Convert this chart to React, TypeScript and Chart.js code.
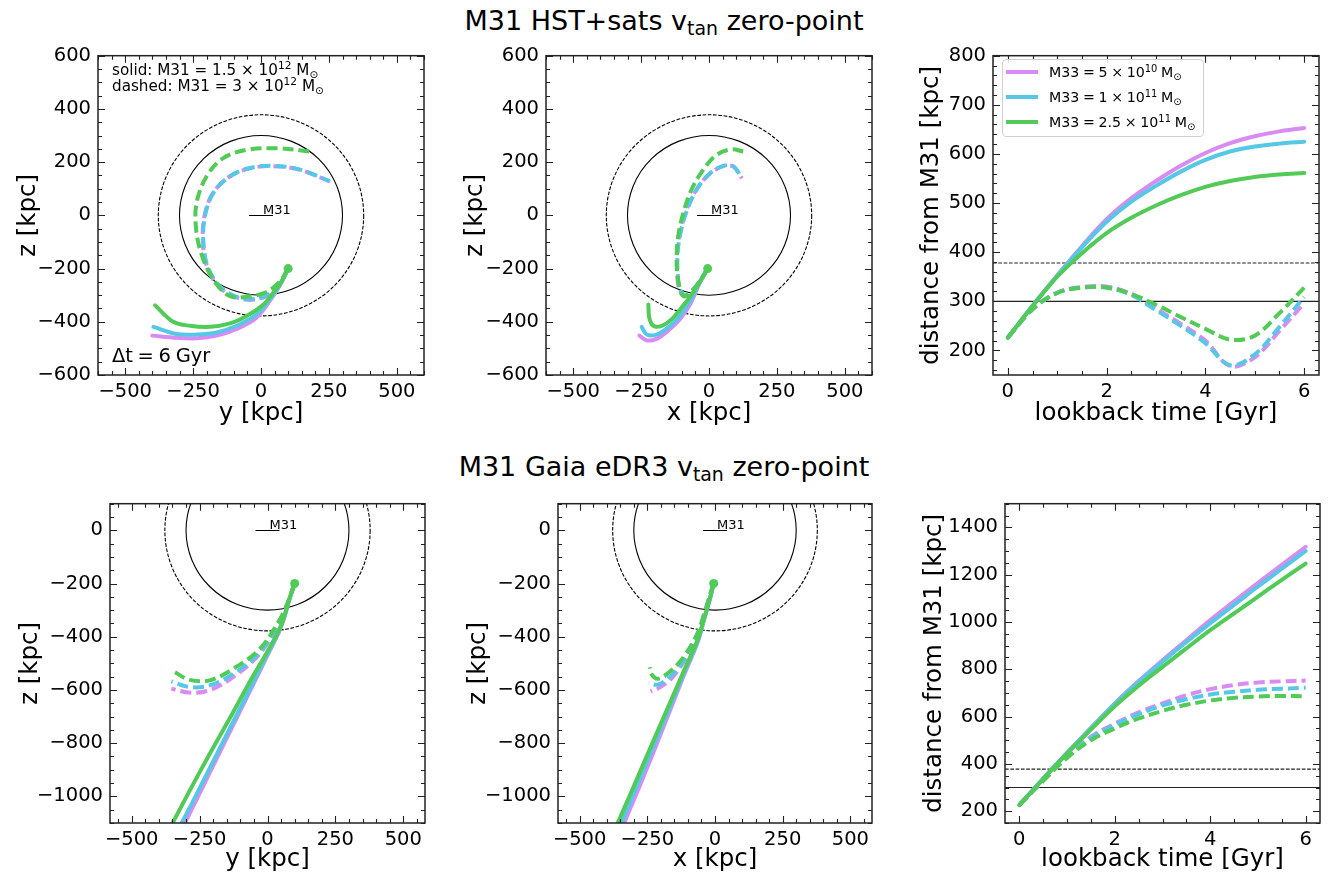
import React, { useEffect, useRef } from "react";
import { Chart, registerables } from "chart.js";
Chart.register(...registerables);

const FONT = "'DejaVu Sans', 'Noto Sans', sans-serif";
const C_VIOLET = "#d98bf4";
const C_CYAN = "#56c8e6";
const C_GREEN = "#52ca58";

// Reference radii (kpc) of M31 halo circles / horizontal lines
const HALO_R = 300;
const HALO_R_HEAVY = 378;

// Present-day M33 position
const M33_NOW_YZ: [number, number] = [100, -200];
const M33_NOW_XZ: [number, number] = [-5, -200];

// Tick labels
const SPATIAL_H_TICKS = [-500, -250, 0, 250, 500];
const TOP_Z_TICKS = [-600, -400, -200, 0, 200, 400, 600];
const BOTTOM_Z_TICKS = [-1000, -800, -600, -400, -200, 0];
const TIME_TICKS = [0, 2, 4, 6];
const HST_DIST_TICKS = [200, 300, 400, 500, 600, 700, 800];
const GAIA_DIST_TICKS = [200, 400, 600, 800, 1000, 1200, 1400];

// ---------- Top row: M31 HST+sats v_tan zero-point ----------
// y-z plane
const HST_YZ_GREEN_SOLID = [[100, -200], [76, -248], [58, -273], [9, -335], [-53, -378], [-114, -406], [-188, -419], [-261, -415], [-323, -400], [-390, -338]];
const HST_YZ_CYAN_SOLID = [[100, -200], [76, -250], [50, -292], [-16, -372], [-90, -415], [-163, -440], [-237, -448], [-310, -446], [-396, -419]];
const HST_YZ_VIOLET_SOLID = [[100, -200], [76, -251], [50, -295], [-16, -384], [-90, -427], [-163, -452], [-237, -462], [-310, -460], [-400, -452]];
const HST_YZ_GREEN_DASHED = [[100, -200], [70, -248], [21, -288], [-40, -304], [-114, -304], [-175, -242], [-218, -149], [-239, -51], [-237, 48], [-200, 147], [-139, 215], [-53, 246], [58, 252], [186, 240]];
const HST_YZ_CYAN_DASHED = [[100, -200], [58, -273], [-4, -310], [-77, -310], [-145, -273], [-194, -199], [-212, -100], [-206, -1], [-175, 85], [-114, 147], [-40, 178], [45, 186], [144, 172], [254, 128]];
const HST_YZ_VIOLET_DASHED = [[100, -200], [58, -276], [-4, -313], [-77, -313], [-147, -276], [-196, -201], [-214, -101], [-208, -2], [-177, 84], [-115, 146], [-40, 177], [45, 185], [144, 171], [254, 127]];
// x-z plane
const HST_XZ_GREEN_SOLID = [[-5, -200], [-33, -248], [-64, -298], [-101, -347], [-137, -390], [-174, -415], [-205, -415], [-220, -384], [-223, -335]];
const HST_XZ_CYAN_SOLID = [[-5, -200], [-33, -250], [-70, -322], [-107, -378], [-150, -421], [-193, -448], [-229, -448], [-248, -419]];
const HST_XZ_VIOLET_SOLID = [[-5, -200], [-33, -252], [-70, -335], [-107, -390], [-150, -433], [-193, -464], [-229, -470], [-256, -452]];
const HST_XZ_GREEN_DASHED = [[-5, -200], [-33, -248], [-64, -285], [-94, -304], [-113, -248], [-119, -162], [-113, -75], [-94, 11], [-64, 98], [-21, 172], [28, 227], [83, 248], [126, 240]];
const HST_XZ_CYAN_DASHED = [[-5, -200], [-45, -262], [-85, -300], [-106, -280], [-115, -220], [-116, -150], [-109, -88], [-88, -1], [-52, 85], [-2, 153], [53, 186], [90, 184], [120, 141]];
const HST_XZ_VIOLET_DASHED = [[-5, -200], [-45, -264], [-86, -303], [-108, -283], [-117, -222], [-118, -151], [-111, -89], [-90, -2], [-54, 84], [-3, 151], [52, 185], [90, 183], [121, 139]];
// distance from M31 vs lookback time
const LOOKBACK_GYR = [0, 0.5, 1, 1.5, 2, 2.5, 3, 3.5, 4, 4.5, 5, 5.5, 6];
const HST_DIST_VIOLET_SOLID = [226, 291, 353, 412, 467, 510, 545, 576, 602, 622, 636, 646, 653];
const HST_DIST_CYAN_SOLID = [226, 291, 352, 410, 462, 503, 535, 564, 588, 605, 615, 621, 625];
const HST_DIST_GREEN_SOLID = [226, 290, 350, 398, 439, 470, 495, 516, 533, 545, 553, 558, 561];
const HST_DIST_VIOLET_DASHED = [226, 284, 318, 329, 330, 315, 285, 254, 220, 168, 186, 240, 296];
const HST_DIST_CYAN_DASHED = [226, 284, 317, 328, 328, 313, 282, 250, 215, 170, 192, 248, 309];
const HST_DIST_GREEN_DASHED = [226, 284, 317, 328, 328, 315, 293, 268, 244, 222, 230, 276, 328];

// ---------- Bottom row: M31 Gaia eDR3 v_tan zero-point ----------
const GAIA_YZ_GREEN_SOLID = [[100, -200], [80, -260], [60, -330], [40, -380], [0, -455], [-60, -560], [-130, -690], [-210, -835], [-290, -985], [-350, -1101], [-366, -1130]];
const GAIA_YZ_CYAN_SOLID = [[100, -200], [80, -262], [60, -332], [40, -385], [0, -465], [-60, -586], [-130, -727], [-210, -888], [-280, -1030], [-317, -1101], [-331, -1130]];
const GAIA_YZ_VIOLET_SOLID = [[100, -200], [80, -262], [60, -333], [40, -387], [0, -470], [-60, -595], [-130, -740], [-210, -905], [-270, -1030], [-305, -1101], [-319, -1130]];
const GAIA_YZ_GREEN_DASHED = [[100, -200], [69, -286], [38, -348], [-29, -447], [-127, -521], [-213, -564], [-287, -562], [-342, -533]];
const GAIA_YZ_CYAN_DASHED = [[100, -200], [69, -288], [38, -354], [-29, -459], [-127, -540], [-213, -583], [-287, -589], [-354, -568]];
const GAIA_YZ_VIOLET_DASHED = [[100, -200], [69, -289], [38, -356], [-29, -465], [-127, -552], [-213, -601], [-287, -610], [-354, -595]];
const GAIA_XZ_GREEN_SOLID = [[-5, -200], [-20, -260], [-40, -330], [-64, -410], [-120, -540], [-180, -680], [-240, -820], [-300, -962], [-360, -1101], [-372, -1130]];
const GAIA_XZ_CYAN_SOLID = [[-5, -200], [-20, -262], [-40, -333], [-63, -413], [-118, -545], [-176, -687], [-235, -830], [-290, -965], [-346, -1101], [-358, -1130]];
const GAIA_XZ_VIOLET_SOLID = [[-5, -200], [-20, -263], [-40, -334], [-62, -415], [-116, -548], [-172, -692], [-228, -836], [-282, -970], [-336, -1101], [-348, -1130]];
const GAIA_XZ_GREEN_DASHED = [[-5, -200], [-39, -311], [-64, -385], [-113, -472], [-162, -527], [-211, -558], [-235, -540], [-241, -515]];
const GAIA_XZ_CYAN_DASHED = [[-5, -200], [-39, -313], [-64, -391], [-113, -484], [-162, -546], [-211, -580], [-245, -573]];
const GAIA_XZ_VIOLET_DASHED = [[-5, -200], [-39, -314], [-64, -394], [-113, -490], [-162, -558], [-211, -595], [-238, -605]];
const GAIA_DIST_VIOLET_SOLID = [226, 338, 447, 552, 656, 750, 838, 923, 1008, 1087, 1165, 1242, 1318];
const GAIA_DIST_CYAN_SOLID = [226, 338, 446, 551, 653, 746, 832, 915, 995, 1072, 1150, 1225, 1300];
const GAIA_DIST_GREEN_SOLID = [226, 336, 443, 545, 643, 730, 810, 888, 965, 1036, 1107, 1178, 1247];
const GAIA_DIST_VIOLET_DASHED = [226, 330, 432, 515, 570, 618, 656, 690, 716, 733, 744, 749, 752];
const GAIA_DIST_CYAN_DASHED = [226, 330, 430, 510, 565, 610, 647, 673, 693, 705, 713, 718, 722];
const GAIA_DIST_GREEN_DASHED = [226, 328, 425, 500, 550, 592, 624, 650, 668, 679, 685, 687, 686];

// Legend
const LEGEND_COLORS = [C_VIOLET, C_CYAN, C_GREEN];
const LEGEND_COEFS = ["5", "1", "2.5"];
const LEGEND_EXPS = ["10", "11", "11"];

// ---------- layout constants ----------
const YW = 92;
const XH = 62;
const PT = 14;
const PR = 10;
const TICK_FS = 19.5;
const AXIS_FS = 24.5;

const lineDs = (pts: number[][], color: string, dashed: boolean) => ({
  data: pts.map(([a, b]) => ({ x: a, y: b })),
  borderColor: color,
  backgroundColor: color,
  borderWidth: 4,
  borderDash: dashed ? [11, 5] : [],
  borderCapStyle: dashed ? "butt" : "round",
  borderJoinStyle: "round",
  pointRadius: 0,
  pointHoverRadius: 0,
  showLine: true,
  tension: 0.35,
  fill: false,
  clip: 0,
});

const distDs = (vals: number[], color: string, dashed: boolean) =>
  lineDs(LOOKBACK_GYR.map((t, i) => [t, vals[i]]), color, dashed);

const dotDs = (p: [number, number]) => ({
  data: [{ x: p[0], y: p[1] }],
  pointRadius: 4.5,
  pointHoverRadius: 4.5,
  pointBackgroundColor: C_GREEN,
  pointBorderWidth: 0,
  showLine: false,
  clip: 0,
});

const fmt = (v: number) => String(Math.round(v * 1000) / 1000).replace("-", "\u2212");

function makeDecor(d: any) {
  return {
    id: "decor",
    beforeDatasetsDraw(chart: any) {
      const { ctx, chartArea: a } = chart;
      const xs = chart.scales.x;
      const ys = chart.scales.y;
      ctx.save();
      ctx.beginPath();
      ctx.rect(a.left, a.top, a.right - a.left, a.bottom - a.top);
      ctx.clip();
      for (const c of d.circles || []) {
        const cx = xs.getPixelForValue(0);
        const cy = ys.getPixelForValue(0);
        const rx = Math.abs(xs.getPixelForValue(c.r) - cx);
        const ry = Math.abs(ys.getPixelForValue(c.r) - cy);
        ctx.strokeStyle = "#000";
        ctx.lineWidth = 1.1;
        ctx.setLineDash(c.dash);
        ctx.beginPath();
        ctx.ellipse(cx, cy, rx, ry, 0, 0, Math.PI * 2);
        ctx.stroke();
      }
      for (const h of d.hlines || []) {
        const py = ys.getPixelForValue(h.v);
        ctx.strokeStyle = "#222";
        ctx.lineWidth = 1.2;
        ctx.setLineDash(h.dash);
        ctx.beginPath();
        ctx.moveTo(a.left, py);
        ctx.lineTo(a.right, py);
        ctx.stroke();
      }
      if (d.m31) {
        const cx = xs.getPixelForValue(0);
        const cy = Math.round(ys.getPixelForValue(0)) + 0.5;
        ctx.setLineDash([]);
        ctx.strokeStyle = "#000";
        ctx.lineWidth = 1;
        ctx.beginPath();
        ctx.moveTo(cx - 12, cy);
        ctx.lineTo(cx + 12, cy);
        ctx.stroke();
        ctx.fillStyle = "#000";
        ctx.font = `13px ${FONT}`;
        ctx.textAlign = "left";
        ctx.textBaseline = "alphabetic";
        ctx.fillText("M31", cx + 2, cy - 1.5);
      }
      ctx.restore();
    },
    afterDraw(chart: any) {
      const { ctx, chartArea: a } = chart;
      const xs = chart.scales.x;
      const ys = chart.scales.y;
      ctx.save();
      ctx.setLineDash([]);
      ctx.strokeStyle = "#222";
      const marks = (scale: any, minor: number) => {
        const major = scale.ticks.map((t: any) => t.value);
        const mn: number[] = [];
        for (let k = Math.ceil(scale.min / minor - 1e-9); k * minor <= scale.max + 1e-9; k++) {
          const v = k * minor;
          if (!major.some((m: number) => Math.abs(m - v) < 1e-6)) mn.push(v);
        }
        return { major, mn };
      };
      const xm = marks(xs, d.xMinor);
      const ym = marks(ys, d.yMinor);
      ctx.lineWidth = 1.1;
      const vtick = (v: number, len: number) => {
        const px = Math.round(xs.getPixelForValue(v)) + 0.5;
        ctx.beginPath();
        ctx.moveTo(px, a.bottom);
        ctx.lineTo(px, a.bottom - len);
        ctx.moveTo(px, a.top);
        ctx.lineTo(px, a.top + len);
        ctx.stroke();
      };
      const htick = (v: number, len: number) => {
        const py = Math.round(ys.getPixelForValue(v)) + 0.5;
        ctx.beginPath();
        ctx.moveTo(a.left, py);
        ctx.lineTo(a.left + len, py);
        ctx.moveTo(a.right, py);
        ctx.lineTo(a.right - len, py);
        ctx.stroke();
      };
      xm.major.forEach((v: number) => vtick(v, 7));
      xm.mn.forEach((v: number) => vtick(v, 4));
      ym.major.forEach((v: number) => htick(v, 7));
      ym.mn.forEach((v: number) => htick(v, 4));
      ctx.lineWidth = 1.5;
      ctx.strokeStyle = "#222";
      ctx.strokeRect(a.left, a.top, a.right - a.left, a.bottom - a.top);
      ctx.restore();
    },
  };
}

type PanelProps = {
  area: [number, number, number, number];
  xr: [number, number, number];
  yr: [number, number, number];
  xTicks: number[];
  yTicks: number[];
  xTitle: string;
  yTitle: string;
  yTitleX: number;
  xTitleY: number;
  datasets: any[];
  decor: any;
};

function Panel(p: PanelProps) {
  const ref = useRef<HTMLCanvasElement>(null);
  const [x0, y0, x1, y1] = p.area;
  const L = x0 - YW;
  const T = y0 - PT;
  const W = x1 - L + PR;
  const H = y1 + XH - T;
  useEffect(() => {
    const lh = AXIS_FS * 1.2;
    const tickFont = { family: FONT, size: TICK_FS };
    const titleFont = { family: FONT, size: AXIS_FS };
    const chart = new Chart(ref.current as HTMLCanvasElement, {
      type: "scatter",
      data: { datasets: p.datasets },
      options: {
        animation: false,
        responsive: false,
        events: [],
        layout: { padding: { top: PT, right: PR, left: 0, bottom: 0 } },
        plugins: { legend: { display: false }, tooltip: { enabled: false } },
        scales: {
          x: {
            type: "linear",
            position: "bottom",
            min: p.xr[0],
            max: p.xr[1],
            grid: { display: false, drawTicks: false },
            border: { display: false },
            afterBuildTicks: (s: any) => {
              s.ticks = p.xTicks.map((v) => ({ value: v }));
            },
            ticks: {
              autoSkip: false,
              maxRotation: 0,
              padding: 5,
              color: "#000",
              font: tickFont,
              callback: (v: any) => fmt(Number(v)),
            },
            title: {
              display: true,
              text: p.xTitle,
              color: "#000",
              font: titleFont,
              padding: { top: 0, bottom: y1 + XH - lh / 2 - p.xTitleY },
            },
            afterFit: (s: any) => {
              s.height = XH;
            },
          },
          y: {
            type: "linear",
            position: "left",
            min: p.yr[0],
            max: p.yr[1],
            grid: { display: false, drawTicks: false },
            border: { display: false },
            afterBuildTicks: (s: any) => {
              s.ticks = p.yTicks.map((v) => ({ value: v }));
            },
            ticks: {
              autoSkip: false,
              padding: 7,
              color: "#000",
              font: tickFont,
              callback: (v: any) => fmt(Number(v)),
            },
            title: {
              display: true,
              text: p.yTitle,
              color: "#000",
              font: titleFont,
              padding: { top: p.yTitleX - L - lh / 2, bottom: 0 },
            },
            afterFit: (s: any) => {
              s.width = YW;
            },
          },
        },
      } as any,
      plugins: [makeDecor({ ...p.decor, xMinor: p.xr[2], yMinor: p.yr[2] }) as any],
    });
    return () => chart.destroy();
  }, []);
  return (
    <canvas
      ref={ref}
      width={W}
      height={H}
      style={{ position: "absolute", left: L, top: T, width: W, height: H }}
    />
  );
}

const Sup = ({ c }: { c: string }) => (
  <span style={{ fontSize: "0.7em", position: "relative", top: "-0.55em" }}>{c}</span>
);
const Sub = ({ c, dy = "0.28em" }: { c: string; dy?: string }) => (
  <span style={{ fontSize: "0.7em", position: "relative", top: dy }}>{c}</span>
);

function Txt({ x, base, fs, center, ws, children }: any) {
  return (
    <div
      style={{
        position: "absolute",
        left: center ? 0 : x,
        width: center ? 1328 : undefined,
        textAlign: center ? "center" : "left",
        top: base - 0.846 * fs,
        fontSize: fs,
        lineHeight: 1,
        fontFamily: FONT,
        whiteSpace: "nowrap",
        wordSpacing: ws || "normal",
        color: "#000",
      }}
    >
      {children}
    </div>
  );
}

const orbitDecor = { circles: [{ r: HALO_R, dash: [] }, { r: HALO_R_HEAVY, dash: [3.7, 1.6] }], m31: true };
const distDecor = { hlines: [{ v: HALO_R, dash: [] }, { v: HALO_R_HEAVY, dash: [3.7, 1.6] }] };

const orbitSets = (gS: number[][], gD: number[][], cS: number[][], cD: number[][], vS: number[][], vD: number[][], dot: [number, number]) => [
  dotDs(dot),
  lineDs(gS, C_GREEN, false),
  lineDs(gD, C_GREEN, true),
  lineDs(cS, C_CYAN, false),
  lineDs(cD, C_CYAN, true),
  lineDs(vS, C_VIOLET, false),
  lineDs(vD, C_VIOLET, true),
];

const distSets = (gS: number[], gD: number[], cS: number[], cD: number[], vS: number[], vD: number[]) => [
  distDs(gS, C_GREEN, false),
  distDs(gD, C_GREEN, true),
  distDs(cS, C_CYAN, false),
  distDs(cD, C_CYAN, true),
  distDs(vS, C_VIOLET, false),
  distDs(vD, C_VIOLET, true),
];

export default function App() {
  return (
    <div style={{ position: "absolute", left: 0, top: 0, width: 1328, height: 875, overflow: "hidden", background: "#fff", fontFamily: FONT }}>
      <Txt center base={30} fs={27}>
        M31 HST+sats v<Sub c="tan" /> zero-point
      </Txt>
      <Txt center base={476} fs={27}>
        M31 Gaia eDR3 v<Sub c="tan" /> zero-point
      </Txt>

      <Panel
        area={[98, 51, 424, 375]}
        xr={[-600, 600, 50]}
        yr={[-600, 600, 50]}
        xTicks={SPATIAL_H_TICKS}
        yTicks={TOP_Z_TICKS}
        xTitle="y [kpc]"
        yTitle="z [kpc]"
        yTitleX={29}
        xTitleY={414}
        decor={orbitDecor}
        datasets={orbitSets(HST_YZ_GREEN_SOLID, HST_YZ_GREEN_DASHED, HST_YZ_CYAN_SOLID, HST_YZ_CYAN_DASHED, HST_YZ_VIOLET_SOLID, HST_YZ_VIOLET_DASHED, M33_NOW_YZ)}
      />
      <Panel
        area={[546, 51, 872, 375]}
        xr={[-600, 600, 50]}
        yr={[-600, 600, 50]}
        xTicks={SPATIAL_H_TICKS}
        yTicks={TOP_Z_TICKS}
        xTitle="x [kpc]"
        yTitle="z [kpc]"
        yTitleX={476}
        xTitleY={414}
        decor={orbitDecor}
        datasets={orbitSets(HST_XZ_GREEN_SOLID, HST_XZ_GREEN_DASHED, HST_XZ_CYAN_SOLID, HST_XZ_CYAN_DASHED, HST_XZ_VIOLET_SOLID, HST_XZ_VIOLET_DASHED, M33_NOW_XZ)}
      />
      <Panel
        area={[993, 51, 1319, 375]}
        xr={[-0.3, 6.3, 0.5]}
        yr={[150, 800, 20]}
        xTicks={TIME_TICKS}
        yTicks={HST_DIST_TICKS}
        xTitle="lookback time [Gyr]"
        yTitle="distance from M31 [kpc]"
        yTitleX={931.5}
        xTitleY={414}
        decor={distDecor}
        datasets={distSets(HST_DIST_GREEN_SOLID, HST_DIST_GREEN_DASHED, HST_DIST_CYAN_SOLID, HST_DIST_CYAN_DASHED, HST_DIST_VIOLET_SOLID, HST_DIST_VIOLET_DASHED)}
      />
      <Panel
        area={[110, 499, 425, 823]}
        xr={[-580, 580, 50]}
        yr={[-1100, 100, 50]}
        xTicks={SPATIAL_H_TICKS}
        yTicks={BOTTOM_Z_TICKS}
        xTitle="y [kpc]"
        yTitle="z [kpc]"
        yTitleX={31}
        xTitleY={860}
        decor={orbitDecor}
        datasets={orbitSets(GAIA_YZ_GREEN_SOLID, GAIA_YZ_GREEN_DASHED, GAIA_YZ_CYAN_SOLID, GAIA_YZ_CYAN_DASHED, GAIA_YZ_VIOLET_SOLID, GAIA_YZ_VIOLET_DASHED, M33_NOW_YZ)}
      />
      <Panel
        area={[558, 499, 872, 823]}
        xr={[-580, 580, 50]}
        yr={[-1100, 100, 50]}
        xTicks={SPATIAL_H_TICKS}
        yTicks={BOTTOM_Z_TICKS}
        xTitle="x [kpc]"
        yTitle="z [kpc]"
        yTitleX={479}
        xTitleY={860}
        decor={orbitDecor}
        datasets={orbitSets(GAIA_XZ_GREEN_SOLID, GAIA_XZ_GREEN_DASHED, GAIA_XZ_CYAN_SOLID, GAIA_XZ_CYAN_DASHED, GAIA_XZ_VIOLET_SOLID, GAIA_XZ_VIOLET_DASHED, M33_NOW_XZ)}
      />
      <Panel
        area={[1005, 499, 1320, 823]}
        xr={[-0.3, 6.3, 0.5]}
        yr={[150, 1500, 50]}
        xTicks={TIME_TICKS}
        yTicks={GAIA_DIST_TICKS}
        xTitle="lookback time [Gyr]"
        yTitle="distance from M31 [kpc]"
        yTitleX={935}
        xTitleY={860}
        decor={distDecor}
        datasets={distSets(GAIA_DIST_GREEN_SOLID, GAIA_DIST_GREEN_DASHED, GAIA_DIST_CYAN_SOLID, GAIA_DIST_CYAN_DASHED, GAIA_DIST_VIOLET_SOLID, GAIA_DIST_VIOLET_DASHED)}
      />

      {/* panel 1 annotations */}
      <Txt x={112} base={76} fs={15.2}>
        solid: M31 = 1.5 × 10<Sup c="12" /> M<Sub c="⊙" />
      </Txt>
      <Txt x={112} base={91.5} fs={15.2}>
        dashed: M31 = 3 × 10<Sup c="12" /> M<Sub c="⊙" />
      </Txt>
      <Txt x={112} base={362} fs={19.5} ws="-0.08em">
        Δt = 6 Gyr
      </Txt>

      {/* legend */}
      <div
        style={{
          position: "absolute",
          left: 1002,
          top: 59,
          width: 202,
          height: 78,
          boxSizing: "border-box",
          border: "1px solid #d0d0d0",
          borderRadius: 4,
          background: "rgba(255,255,255,0.85)",
        }}
      />
      {LEGEND_COLORS.map((col, i) => (
        <React.Fragment key={i}>
          <div style={{ position: "absolute", left: 1006, top: 70 + i * 25, width: 32, height: 4, background: col }} />
          <Txt x={1049} base={77.5 + i * 25} fs={14.2} ws="-0.06em">
            M33 = {LEGEND_COEFS[i]} × 10<Sup c={LEGEND_EXPS[i]} /> M<Sub c="⊙" />
          </Txt>
        </React.Fragment>
      ))}
    </div>
  );
}
